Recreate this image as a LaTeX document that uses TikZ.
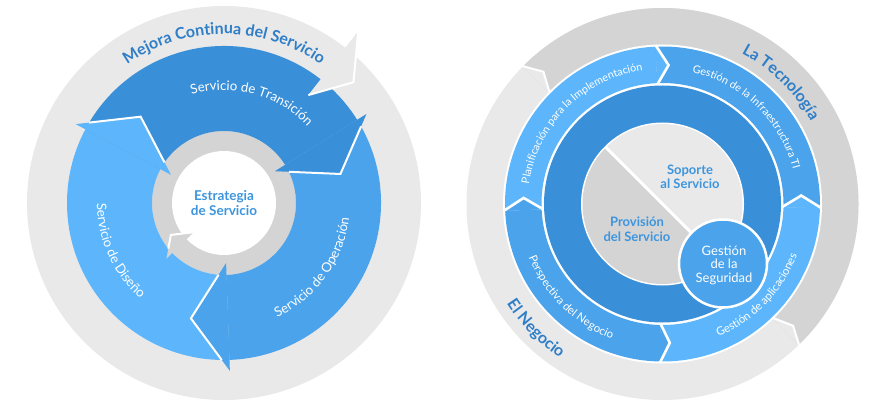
\documentclass[tikz,border=0pt]{standalone}
\usepackage{fontspec}
\setmainfont{Lato}
\usetikzlibrary{calc,decorations.text}
\definecolor{bDark}{HTML}{3A8FD9}
\definecolor{bMed}{HTML}{4BA3EB}
\definecolor{bLight}{HTML}{5DB6FB}
\definecolor{gLight}{HTML}{E9E9E9}
\definecolor{gDark}{HTML}{D4D4D4}
\definecolor{tBlue}{HTML}{2E7EC8}
\definecolor{tBlue2}{HTML}{3D95DE}
\tikzset{
  gap/.style={white, line width=2pt, line join=miter},
  gapthick/.style={white, line width=2.6pt, line join=miter},
  curvetext/.style={decorate, decoration={text along path, text align=center, text color=#1}},
}
\begin{document}
\begin{tikzpicture}[x=1pt,y=1pt]
\useasboundingbox (0,0) rectangle (890,407);
\fill[white] (0,0) rectangle (890,407);

% ================= LEFT DIAGRAM =================
\begin{scope}[shift={(224,204)}]
  \fill[gLight] (0,0) circle[radius=197];
  \fill[gDark] (0,0) circle[radius=72];
  % bodies
  \fill[bLight] (272:157) arc[start angle=272, end angle=152, radius=157] -- (152:72) arc[start angle=152, end angle=272, radius=72] -- cycle;
  \fill[bDark] (152:157) arc[start angle=152, end angle=32, radius=157] -- (32:72) arc[start angle=32, end angle=152, radius=72] -- cycle;
  \fill[bMed] (32:157) arc[start angle=32, end angle=-88, radius=157] -- (-88:72) arc[start angle=-88, end angle=32, radius=72] -- cycle;
  \fill[white] (0,0) circle[radius=52];
  % heads
  \fill[bLight] (152:168) -- (134:120) -- (152:60) -- cycle;
  \draw[gap] ($(134:120)!0.792!(152:168)$) -- (134:120) -- ($(134:120)!0.786!(152:60)$);
  \fill[bDark] (32:168) -- (14:120) -- (32:60) -- cycle;
  \draw[gap] ($(14:120)!0.792!(32:168)$) -- (14:120) -- ($(14:120)!0.786!(32:60)$);
  \fill[bMed] (-88:168) -- (-106:120) -- (-88:60) -- cycle;
  \draw[gap] ($(-106:120)!0.792!(-88:168)$) -- (-106:120) -- ($(-106:120)!0.786!(-88:60)$);
  % outer grey arrow head
  \fill[gLight] (52:218) -- (43:177) -- (52:137) -- cycle;
  \draw[gap] (52:218) -- (43:177) -- (52:137);
  % inner grey arrow head
  \fill[gDark] (224:80) -- (211:62) -- (224:42) -- cycle;
  \draw[gap] ($(211:62)!0.579!(224:80)$) -- (211:62) -- (224:42);
  % texts
  \path[curvetext=tBlue, decoration={text={|\bfseries\fontsize{16}{19}\selectfont|Mejora Continua del Servicio}}]
    (150:169) arc[start angle=150, end angle=30, radius=169];
  \path[curvetext=white, decoration={text={|\fontsize{13.2}{16}\selectfont|Servicio de Transición}}]
    (124.5:113) arc[start angle=124.5, end angle=24.5, radius=113];
  \path[curvetext=white, decoration={text={|\fontsize{13.2}{16}\selectfont|Servicio de Operación}}]
    (-87:126) arc[start angle=-87, end angle=15, radius=126];
  \path[curvetext=white, decoration={text={|\fontsize{13.2}{16}\selectfont|Servicio de Diseño}}]
    (153.5:127) arc[start angle=153.5, end angle=255.5, radius=127];
  \node[align=center, text=tBlue2, font=\bfseries\fontsize{13.5}{15.5}\selectfont] (estrategia) at (0,0) {Estrategia\\de Servicio};
\end{scope}

% ================= RIGHT DIAGRAM =================
\begin{scope}[shift={(662.5,203)}]
  \fill[gLight] (0,0) circle[radius=196];
  \fill[gDark] (0,0) -- (135.5:196) arc[start angle=135.5, end angle=-46, radius=196] -- cycle;
  \fill[gLight] (135.5:197) -- (132:178) -- (135.5:158) -- cycle;
  \draw[gap] (135.5:197) -- (132:178) -- (135.5:158);
  \fill[gLight] (-46:197) -- (-43:178.5) -- (-46:158) -- cycle;
  \draw[gap] (-46:197) -- (-43:178.5) -- (-46:158);
  \fill[white] (0,0) circle[radius=159.5];
  % band
  \fill[bLight] (182.5:157.5) arc[start angle=182.5, end angle=92.5, radius=157.5] -- (92.5:121) arc[start angle=92.5, end angle=182.5, radius=121] -- cycle;
  \fill[bMed] (92.5:157.5) arc[start angle=92.5, end angle=-1.5, radius=157.5] -- (-1.5:121) arc[start angle=-1.5, end angle=92.5, radius=121] -- cycle;
  \fill[bLight] (-1.5:157.5) arc[start angle=-1.5, end angle=-91, radius=157.5] -- (-91:121) arc[start angle=-91, end angle=-1.5, radius=121] -- cycle;
  \fill[bMed] (269:157.5) arc[start angle=269, end angle=182.5, radius=157.5] -- (182.5:121) arc[start angle=182.5, end angle=269, radius=121] -- cycle;
  % chevrons
  \fill[bLight] (92.5:157.5) -- (87.5:139) -- (92.5:121) -- cycle;
  \draw[gapthick] (92.5:159) -- (87.5:139) -- (92.5:119.5);
  \fill[bLight] (-1.5:157.5) -- (3.5:139) -- (-1.5:121) -- cycle;
  \draw[gapthick] (-1.5:159) -- (3.5:139) -- (-1.5:119.5);
  \fill[bMed] (182.5:157.5) -- (177.5:139) -- (182.5:121) -- cycle;
  \draw[gapthick] (182.5:159) -- (177.5:139) -- (182.5:119.5);
  \fill[bMed] (269:157.5) -- (273:139) -- (269:121) -- cycle;
  \draw[gapthick] (269:159) -- (273:139) -- (269:119.5);
  % inner rings
  \fill[bDark] (0,0) circle[radius=118.5];
  \fill[white] (0,0) circle[radius=81.5];
  \fill[gDark] (135:80) arc[start angle=135, end angle=315, radius=80] -- cycle;
  \fill[gLight] (-45:80) arc[start angle=-45, end angle=135, radius=80] -- cycle;
  \draw[white, line width=3pt] (135:81) -- (-45:81);
  \fill[bMed, draw=white, line width=2.5pt] (60.5,-59.5) circle[radius=44];
  % texts
  \path[curvetext=tBlue, decoration={text={|\bfseries\fontsize{16}{19}\selectfont|La Tecnología}}]
    (95.75:170) arc[start angle=95.75, end angle=-4.25, radius=170];
  \path[curvetext=tBlue, decoration={text={|\bfseries\fontsize{16}{19}\selectfont|El Negocio}}]
    (184.5:185) arc[start angle=184.5, end angle=264.5, radius=185];
  \path[curvetext=white, decoration={text={|\fontsize{10.8}{13}\selectfont|Planificación para la Implementación}}]
    (185:135) arc[start angle=185, end angle=85, radius=135];
  \path[curvetext=white, decoration={text={|\fontsize{10.8}{13}\selectfont|Gestión de la Infraestructura TI}}]
    (96:135) arc[start angle=96, end angle=-4, radius=135];
  \path[curvetext=white, decoration={text={|\fontsize{11.3}{13}\selectfont|Gestión de aplicaciones}}]
    (-89:144) arc[start angle=-89, end angle=1, radius=144];
  \path[curvetext=white, decoration={text={|\fontsize{11.3}{13}\selectfont|Perspectiva del Negocio}}]
    (180.5:144) arc[start angle=180.5, end angle=270.5, radius=144];
  \node[align=center, text=tBlue2, font=\bfseries\fontsize{13}{14.5}\selectfont] (soporte) at (27.5,27) {Soporte\\al Servicio};
  \node[align=center, text=tBlue2, font=\bfseries\fontsize{13}{14.5}\selectfont] (provision) at (-25.5,-25) {Provisión\\del Servicio};
  \node[align=center, text=white, font=\fontsize{13}{13.5}\selectfont] (seguridad) at (61.5,-61) {Gestión\\de la\\Seguridad};
\end{scope}
\end{tikzpicture}
\end{document}
